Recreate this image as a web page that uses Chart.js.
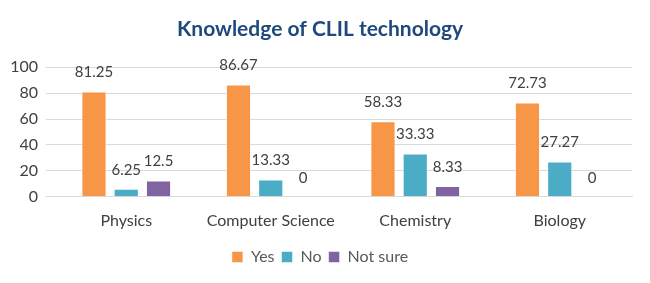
<!DOCTYPE html>
<html>
<head>
<meta charset="utf-8">
<script src="https://cdn.jsdelivr.net/npm/chart.js@4/dist/chart.umd.min.js"></script>
<style>
  html, body { margin: 0; padding: 0; background: #fff; }
  #wrap { width: 650px; height: 283px; }
</style>
</head>
<body>
<div id="wrap"><canvas id="chart"></canvas></div>
<script>
// dados do gráfico
const categories = ['Physics', 'Computer Science', 'Chemistry', 'Biology'];
const yesValues = [81.25, 86.67, 58.33, 72.73];
const noValues = [6.25, 13.33, 33.33, 27.27];
const notSureValues = [12.5, 0, 8.33, 0];
const yTicks = [0, 20, 40, 60, 80, 100];

// rótulos de valor acima das barras
const valueLabels = {
  id: 'valueLabels',
  afterDatasetsDraw(chart) {
    const ctx = chart.ctx;
    ctx.save();
    ctx.font = '15px Lato';
    ctx.fillStyle = '#404040';
    ctx.textAlign = 'center';
    ctx.textBaseline = 'middle';
    chart.data.datasets.forEach((ds, i) => {
      chart.getDatasetMeta(i).data.forEach((bar, j) => {
        ctx.fillText(String(ds.data[j]), bar.x, bar.y - 19);
      });
    });
    ctx.restore();
  }
};

new Chart(document.getElementById('chart'), {
  type: 'bar',
  data: {
    labels: categories,
    datasets: [
      { label: 'Yes', data: yesValues, backgroundColor: '#F79646' },
      { label: 'No', data: noValues, backgroundColor: '#4BACC6' },
      { label: 'Not sure', data: notSureValues, backgroundColor: '#8064A2' }
    ]
  },
  options: {
    responsive: true,
    maintainAspectRatio: false,
    animation: false,
    layout: { padding: { left: 8, right: 18, top: 4, bottom: 8 } },
    datasets: {
      bar: { categoryPercentage: 0.67, barPercentage: 0.78, borderWidth: 1, borderColor: 'rgba(255,255,255,0.5)' }
    },
    plugins: {
      title: {
        display: true,
        text: 'Knowledge of CLIL technology',
        color: '#1F497D',
        font: { family: 'Lato', size: 21, weight: 'bold' },
        padding: { top: 13, bottom: 25 }
      },
      legend: {
        position: 'bottom',
        labels: {
          boxWidth: 11, boxHeight: 11, padding: 7,
          color: '#595959',
          font: { family: 'Lato', size: 16 }
        }
      },
      tooltip: { enabled: false }
    },
    scales: {
      x: {
        grid: { display: false },
        border: { color: '#d9d9d9' },
        afterFit: s => { s.height += 6; },
        ticks: { color: '#404040', font: { family: 'Lato', size: 16 }, padding: 6 }
      },
      y: {
        min: 0, max: 100,
        afterFit: s => { s.width = 46; },
        afterBuildTicks: s => { s.ticks = yTicks.map(v => ({ value: v })); },
        grid: { color: '#d9d9d9' },
        border: { display: false },
        ticks: { color: '#404040', font: { family: 'Lato', size: 16 }, padding: 8 }
      }
    }
  },
  plugins: [valueLabels]
});
</script>
</body>
</html>
